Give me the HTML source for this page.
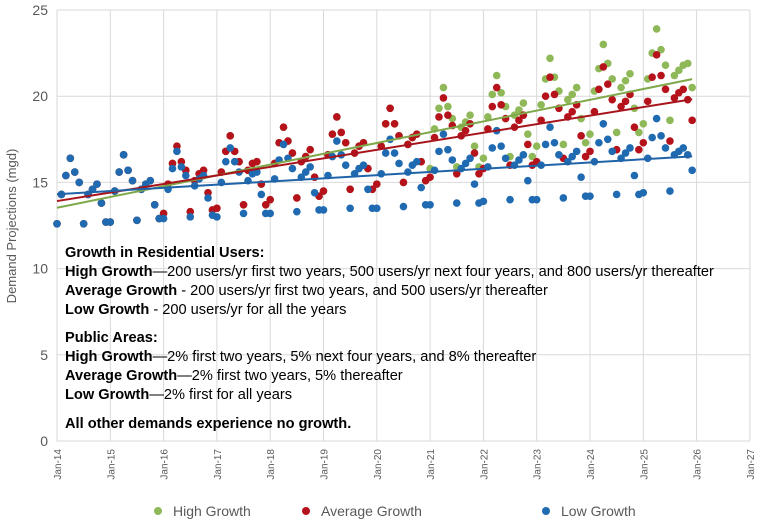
<!DOCTYPE html>
<html><head><meta charset="utf-8"><style>
body{margin:0;background:#fff;font-family:"Liberation Sans",sans-serif}
svg{display:block}
</style></head><body>
<svg id="c" width="765" height="525">
<g id="grid"></g><g id="marks"></g><g id="axes"></g>
<g font-family="Liberation Sans, sans-serif" font-size="14.6" fill="#000">
<text x="65" y="257" font-weight="bold">Growth in Residential Users:</text>
<text x="65" y="276"><tspan font-weight="bold">High Growth</tspan>—200 users/yr first two years, 500 users/yr next four years, and 800 users/yr thereafter</text>
<text x="65" y="295"><tspan font-weight="bold">Average Growth</tspan> - 200 users/yr first two years, and 500 users/yr thereafter</text>
<text x="65" y="314"><tspan font-weight="bold">Low Growth</tspan> - 200 users/yr for all the years</text>
<text x="65" y="342" font-weight="bold">Public Areas:</text>
<text x="65" y="361"><tspan font-weight="bold">High Growth</tspan>—2% first two years, 5% next four years, and 8% thereafter</text>
<text x="65" y="380"><tspan font-weight="bold">Average Growth</tspan>—2% first two years, 5% thereafter</text>
<text x="65" y="399"><tspan font-weight="bold">Low Growth</tspan>—2% first for all years</text>
<text x="65" y="428" font-weight="bold">All other demands experience no growth.</text>
</g>
<g font-size="14" fill="#595959">
<g><circle cx="158" cy="511" r="4" fill="#8fb858"/><text x="173" y="516">High Growth</text></g>
<g><circle cx="306" cy="511" r="4" fill="#b5121b"/><text x="321" y="516">Average Growth</text></g>
<g><circle cx="546" cy="511" r="4" fill="#1f6ab0"/><text x="561" y="516">Low Growth</text></g>
</g>
</svg>
<script>
const years=["Jan-14","Jan-15","Jan-16","Jan-17","Jan-18","Jan-19","Jan-20","Jan-21","Jan-22","Jan-23","Jan-24","Jan-25","Jan-26","Jan-27"];
const yTicks=[0,5,10,15,20,25];
const lowVals=[
12.6,14.3,15.4,16.4,15.6,15.0,12.6,14.3,14.6,14.9,13.8,12.7,
12.7,14.5,15.6,16.6,15.7,15.1,12.8,14.6,14.9,15.1,13.7,12.9,
12.9,14.6,15.8,16.8,15.9,15.4,13.0,14.8,15.2,15.4,14.1,13.1,
13.0,15.0,16.2,17.0,16.2,15.6,13.2,15.1,15.5,15.6,14.3,13.2,
13.2,15.2,16.3,17.2,16.4,15.8,13.3,15.3,15.6,15.9,14.4,13.4,
13.4,15.4,16.5,17.4,16.6,16.0,13.5,15.5,15.8,16.0,14.6,13.5,
13.5,15.5,16.7,17.5,16.7,16.1,13.6,15.6,16.0,16.2,14.7,13.7,
13.7,15.7,16.8,17.8,16.9,16.3,13.8,15.8,16.1,16.4,14.9,13.8,
13.9,15.9,17.0,18.0,17.1,16.4,14.0,16.0,16.3,16.6,15.1,14.0,
14.0,16.0,17.2,18.2,17.3,16.6,14.1,16.2,16.5,16.8,15.3,14.2,
14.2,16.2,17.3,18.4,17.5,16.8,14.3,16.4,16.7,17.0,15.4,14.3,
14.4,16.4,17.6,18.7,17.7,17.0,14.5,16.6,16.8,17.0,16.6,15.7];
const avgVals=[
12.6,14.3,15.4,16.4,15.6,15.0,12.6,14.3,14.6,14.9,13.8,12.7,
12.7,14.5,15.6,16.6,15.7,15.1,12.8,14.6,14.9,15.1,13.7,12.9,
13.2,14.9,16.1,17.1,16.2,15.7,13.3,15.1,15.5,15.7,14.4,13.4,
13.5,15.6,16.8,17.7,16.8,16.2,13.7,15.7,16.1,16.2,14.9,13.7,
14.0,16.1,17.3,18.2,17.4,16.7,14.1,16.2,16.5,16.9,15.3,14.2,
14.5,16.6,17.8,18.8,17.9,17.3,14.6,16.7,17.1,17.3,15.8,14.6,
14.9,17.1,18.4,19.3,18.4,17.7,15.0,17.2,17.6,17.8,16.2,15.1,
15.3,17.6,18.8,19.9,18.9,18.3,15.5,17.7,18.0,18.4,16.7,15.5,
15.8,18.1,19.4,20.5,19.5,18.7,16.0,18.2,18.6,18.9,17.2,16.0,
16.2,18.6,20.0,21.1,20.1,19.3,16.4,18.8,19.1,19.5,17.7,16.5,
16.8,19.1,20.4,21.7,20.7,19.8,16.9,19.4,19.7,20.1,18.2,16.9,
17.3,19.7,21.1,22.4,21.2,20.4,17.4,19.9,20.2,20.4,19.8,18.6];
const highVals=[
12.6,14.3,15.4,16.4,15.6,15.0,12.6,14.3,14.6,14.9,13.8,12.7,
12.7,14.5,15.6,16.6,15.7,15.1,12.8,14.6,14.9,15.1,13.7,12.9,
13.2,14.9,16.1,17.1,16.2,15.7,13.3,15.1,15.5,15.7,14.4,13.4,
13.5,15.6,16.8,17.7,16.8,16.2,13.7,15.7,16.1,16.2,14.9,13.7,
14.0,16.1,17.3,18.2,17.4,16.7,14.1,16.2,16.5,16.9,15.3,14.2,
14.5,16.6,17.8,18.8,17.9,17.3,14.6,16.7,17.1,17.3,15.8,14.6,
14.9,17.1,18.4,19.3,18.4,17.7,15.0,17.2,17.6,17.8,16.2,15.1,
15.8,18.1,19.3,20.5,19.4,18.7,15.9,18.2,18.5,18.9,17.1,15.9,
16.4,18.8,20.1,21.2,20.2,19.4,16.5,18.9,19.2,19.6,17.8,16.5,
17.1,19.5,21.0,22.2,21.1,20.3,17.2,19.8,20.1,20.5,18.7,17.3,
17.8,20.3,21.6,23.0,21.9,21.0,17.9,20.5,20.9,21.3,19.3,17.9,
18.4,21.0,22.5,23.9,22.7,21.8,18.6,21.2,21.5,21.8,21.9,20.5];
const NS="http://www.w3.org/2000/svg";
const X0=57,YEARW=53.3,Y0=441,YH=431;
function xM(i){return X0+i*YEARW/12;}
function yV(v){return Y0-v/25*YH;}
function mk(tag,attrs,parent){const e=document.createElementNS(NS,tag);for(const k in attrs)e.setAttribute(k,attrs[k]);parent.appendChild(e);return e;}
const grid=document.getElementById('grid'),marks=document.getElementById('marks'),axes=document.getElementById('axes');
yTicks.forEach(t=>{
  const l=mk('line',{x1:X0,x2:X0+13*YEARW,y1:yV(t),y2:yV(t),stroke:'#d9d9d9','stroke-width':1},grid);
  
  
  const tx=mk('text',{x:X0-9,y:yV(t)+5,'text-anchor':'end','font-size':14,fill:'#595959'},axes);
  tx.textContent=t;
  
  
});
years.forEach((s,i)=>{
  const x=X0+i*YEARW;
  const l=mk('line',{x1:x,x2:x,y1:yV(25),y2:Y0,stroke:'#d9d9d9','stroke-width':1},grid);
  
  
  const tx=mk('text',{transform:`translate(${x+4},${Y0+8}) rotate(-90)`,'text-anchor':'end','font-size':10,fill:'#595959'},axes);
  tx.textContent=s;
  
  
});
const yt=mk('text',{transform:`translate(16,226) rotate(-90)`,'text-anchor':'middle','font-size':13,fill:'#595959'},axes);
yt.textContent='Demand Projections (mgd)';


function series(vals,color,name){
  const g=mk('g',{},marks);
  
  
  vals.forEach((v,i)=>{
    const c=mk('circle',{cx:xM(i),cy:yV(v),r:3.8,fill:color},g);
    
    
  });
}
function trend(vals,color,name){
  const n=vals.length;let sx=0,sy=0,sxx=0,sxy=0;
  vals.forEach((v,i)=>{sx+=i;sy+=v;sxx+=i*i;sxy+=i*v;});
  const b=(n*sxy-sx*sy)/(n*sxx-sx*sx),a=(sy-b*sx)/n;
  const l=mk('line',{x1:xM(0),y1:yV(a),x2:xM(n-1),y2:yV(a+b*(n-1)),stroke:color,'stroke-width':2},marks);
  
  
}
series(highVals,'#8fb858','high-growth');
series(avgVals,'#b5121b','average-growth');
series(lowVals,'#1f6ab0','low-growth');
trend(highVals,'#7fa84a','high-growth');
trend(avgVals,'#a8141c','average-growth');
trend(lowVals,'#1f63a8','low-growth');
</script>
</body></html>
